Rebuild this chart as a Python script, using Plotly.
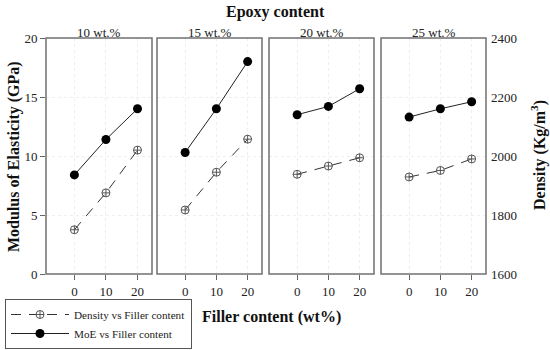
import plotly.graph_objects as go

filler = [0, 10, 20]
panels = ["10 wt.%", "15 wt.%", "20 wt.%", "25 wt.%"]
moe = [
    [8.4, 11.4, 14.0],
    [10.3, 14.0, 18.0],
    [13.5, 14.2, 15.7],
    [13.3, 14.0, 14.6],
]
density = [
    [1750, 1875, 2020],
    [1817, 1945, 2057],
    [1938, 1966, 1994],
    [1929, 1951, 1990],
]

W, H = 550, 350
L, R, T, B = 46, 64, 38, 76
pw = W - L - R
ph = H - T - B
px_edges = [(46, 152), (157, 262), (269, 374), (381, 486)]
domains = [[(a - L) / pw, (b - L) / pw] for a, b in px_edges]

FONT = "Liberation Serif"
fig = go.Figure()

for i in range(4):
    xa = "x" if i == 0 else f"x{i+1}"
    fig.add_trace(go.Scatter(
        x=filler, y=density[i], xaxis=xa, yaxis="y5",
        mode="lines+markers", name="Density vs Filler content",
        line=dict(color="#333333", width=1, dash="10px,8px"),
        marker=dict(symbol="circle-cross-open", size=8, color="#555555",
                    line=dict(width=1)),
        showlegend=(i == 0), legendrank=1,
    ))
    fig.add_trace(go.Scatter(
        x=filler, y=moe[i], xaxis=xa, yaxis="y",
        mode="lines+markers", name="MoE vs Filler content",
        line=dict(color="#222222", width=1),
        marker=dict(symbol="circle", size=9, color="black"),
        showlegend=(i == 0), legendrank=2,
    ))

layout = dict(
    width=W, height=H,
    margin=dict(l=L, r=R, t=T, b=B, autoexpand=False),
    plot_bgcolor="white", paper_bgcolor="white",
    font=dict(family=FONT, size=13, color="#222222"),
    showlegend=True,
    legend=dict(
        x=(5 - L) / pw, y=(H - B - 299) / ph, xanchor="left", yanchor="top",
        bordercolor="#555555", borderwidth=1, bgcolor="white",
        font=dict(family=FONT, size=11.2, color="#222222"),
        itemwidth=58, tracegroupgap=0,
    ),
    yaxis=dict(
        range=[0, 20], tickvals=[0, 5, 10, 15, 20], anchor="x",
        ticks="outside", ticklen=5, tickcolor="#666666",
        showgrid=True, gridcolor="#eeeeee", griddash="dot", gridwidth=1,
        zeroline=False, showline=False,
        tickfont=dict(family=FONT, size=13),
    ),
    yaxis5=dict(
        range=[1600, 2400], tickvals=[1600, 1800, 2000, 2200, 2400],
        overlaying="y", side="right", anchor="x4",
        ticks="", showgrid=False, zeroline=False, showline=False,
        tickfont=dict(family=FONT, size=13), ticklabelstandoff=4,
    ),
)
for i in range(4):
    key = "xaxis" if i == 0 else f"xaxis{i+1}"
    layout[key] = dict(
        domain=domains[i], range=[-9, 24.6], anchor="y",
        tickvals=[0, 10, 20], ticks="outside", ticklen=5, tickcolor="#666666",
        showgrid=True, gridcolor="#eeeeee", griddash="dot", gridwidth=1,
        zeroline=False, showline=False,
        tickfont=dict(family=FONT, size=13),
    )
fig.update_layout(**layout)

shapes = []
for i, (a, b) in enumerate(domains):
    shapes.append(dict(type="rect", xref="paper", yref="paper",
                       x0=a, x1=b, y0=0, y1=1,
                       line=dict(color="#707070", width=1.5), layer="above"))
fig.update_layout(shapes=shapes)

ann = []
for i, (a, b) in enumerate(domains):
    ann.append(dict(text=panels[i], xref="paper", yref="paper",
                    x=(a + b) / 2, y=1, xanchor="center", yanchor="bottom",
                    yshift=-4, showarrow=False,
                    font=dict(family=FONT, size=13, color="#222222")))
ann.append(dict(text="<b>Epoxy content</b>", xref="paper", yref="paper",
                x=(275 - L) / pw, y=1 + (T - 12) / ph,
                xanchor="center", yanchor="middle", showarrow=False,
                font=dict(family=FONT, size=16, color="#111111")))
ann.append(dict(text="<b>Filler content (wt%)</b>", xref="paper", yref="paper",
                x=(271 - L) / pw, y=-(317 - (H - B)) / ph,
                xanchor="center", yanchor="middle", showarrow=False,
                font=dict(family=FONT, size=16, color="#111111")))
ann.append(dict(text="<b>Modulus of Elasticity (GPa)</b>", xref="paper", yref="paper",
                x=(14 - L) / pw, y=(H - B - 157) / ph, textangle=-90,
                xanchor="center", yanchor="middle", showarrow=False,
                font=dict(family=FONT, size=16, color="#111111")))
ann.append(dict(text="<b>Density (Kg/m<sup>3</sup>)</b>", xref="paper", yref="paper",
                x=(538 - L) / pw, y=(H - B - 155) / ph, textangle=-90,
                xanchor="center", yanchor="middle", showarrow=False,
                font=dict(family=FONT, size=16, color="#111111")))
fig.update_layout(annotations=ann)

fig.write_html("out.html", config={"displayModeBar": False},
               post_script="document.body.style.margin='0';")
